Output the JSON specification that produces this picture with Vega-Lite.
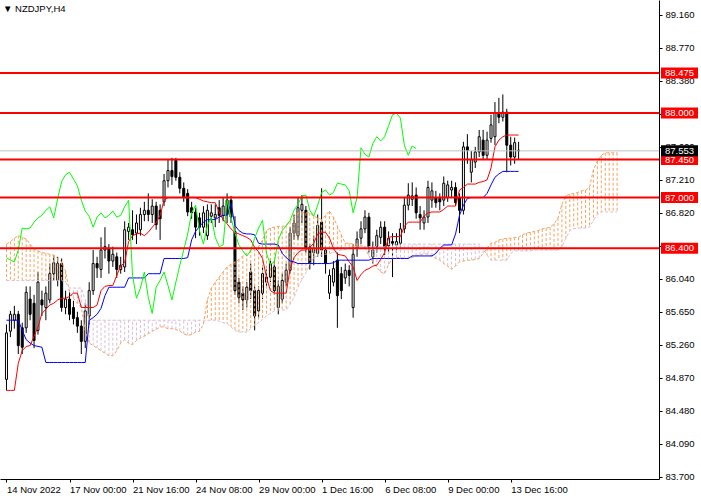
{
  "$schema": "https://vega.github.io/schema/vega-lite/v6.json",
  "width": 659,
  "height": 479,
  "autosize": {"type": "none"},
  "padding": {"left": 0, "top": 0, "right": 42, "bottom": 20},
  "background": "white",
  "title": {
    "text": "▼ NZDJPY,H4",
    "anchor": "start",
    "frame": "group",
    "offset": 0,
    "dy": 13,
    "dx": 3,
    "font": "Liberation Sans",
    "fontSize": 9.5,
    "fontWeight": "normal",
    "color": "black"
  },
  "datasets": {
    "bars": [
      {"i":0,"o":84.85,"h":85.5,"l":84.72,"c":85.4,"t":84.72,"k":85.55,"g":86.29,"a":86.45,"b":86.02},
      {"i":1,"o":85.42,"h":85.66,"l":85.35,"c":85.62,"t":84.72,"k":85.55,"g":86.26,"a":86.48,"b":86.02},
      {"i":2,"o":85.55,"h":85.72,"l":85.45,"c":85.62,"t":84.72,"k":85.55,"g":86.24,"a":86.52,"b":86.02},
      {"i":3,"o":85.62,"h":85.66,"l":85.15,"c":85.25,"t":85.04,"k":85.55,"g":86.38,"a":86.55,"b":86.02},
      {"i":4,"o":85.46,"h":85.52,"l":85.15,"c":85.23,"t":85.19,"k":85.43,"g":86.64,"a":86.53,"b":86.02},
      {"i":5,"o":85.46,"h":85.95,"l":85.4,"c":85.88,"t":85.24,"k":85.32,"g":86.63,"a":86.51,"b":86.02},
      {"i":6,"o":85.8,"h":85.95,"l":85.55,"c":85.62,"t":85.25,"k":85.28,"g":86.64,"a":86.45,"b":86.02},
      {"i":7,"o":85.75,"h":85.85,"l":85.22,"c":85.31,"t":85.36,"k":85.25,"g":86.71,"a":86.39,"b":86.02},
      {"i":8,"o":85.43,"h":86.12,"l":85.38,"c":86.0,"t":85.47,"k":85.24,"g":86.76,"a":86.37,"b":86.02},
      {"i":9,"o":85.79,"h":85.9,"l":85.6,"c":85.73,"t":85.63,"k":85.23,"g":86.79,"a":86.35,"b":86.02},
      {"i":10,"o":85.7,"h":85.95,"l":85.55,"c":85.87,"t":85.68,"k":85.05,"g":86.85,"a":86.34,"b":86.02},
      {"i":11,"o":85.79,"h":86.22,"l":85.75,"c":86.1,"t":85.73,"k":85.05,"g":86.89,"a":86.33,"b":86.02},
      {"i":12,"o":86.1,"h":86.32,"l":86.02,"c":86.23,"t":85.75,"k":85.05,"g":86.76,"a":86.32,"b":86.02},
      {"i":13,"o":86.02,"h":86.3,"l":85.95,"c":86.22,"t":85.79,"k":85.05,"g":86.99,"a":86.28,"b":86.02},
      {"i":14,"o":86.22,"h":86.28,"l":85.65,"c":85.7,"t":85.81,"k":85.05,"g":87.19,"a":86.24,"b":86.02},
      {"i":15,"o":85.7,"h":85.9,"l":85.62,"c":85.8,"t":85.81,"k":85.05,"g":87.27,"a":86.13,"b":86.0},
      {"i":16,"o":85.8,"h":85.88,"l":85.55,"c":85.62,"t":85.83,"k":85.05,"g":87.3,"a":85.88,"b":85.93},
      {"i":17,"o":85.7,"h":85.78,"l":85.5,"c":85.57,"t":85.87,"k":85.05,"g":87.22,"a":85.81,"b":85.93},
      {"i":18,"o":85.58,"h":85.65,"l":85.4,"c":85.48,"t":85.87,"k":85.05,"g":87.14,"a":85.75,"b":85.93},
      {"i":19,"o":85.48,"h":85.55,"l":85.15,"c":85.3,"t":85.7,"k":85.05,"g":86.97,"a":85.7,"b":85.93},
      {"i":20,"o":85.3,"h":85.75,"l":85.22,"c":85.66,"t":85.7,"k":85.05,"g":86.84,"a":85.43,"b":85.79},
      {"i":21,"o":85.6,"h":86.0,"l":85.5,"c":85.9,"t":85.7,"k":85.55,"g":86.78,"a":85.28,"b":85.55},
      {"i":22,"o":85.9,"h":86.38,"l":85.85,"c":86.22,"t":85.7,"k":85.58,"g":86.65,"a":85.25,"b":85.55},
      {"i":23,"o":86.22,"h":86.3,"l":86.05,"c":86.17,"t":85.73,"k":85.62,"g":86.77,"a":85.22,"b":85.55},
      {"i":24,"o":86.15,"h":86.53,"l":86.05,"c":86.38,"t":85.9,"k":85.69,"g":86.82,"a":85.19,"b":85.55},
      {"i":25,"o":86.38,"h":86.65,"l":86.28,"c":86.42,"t":85.95,"k":85.84,"g":86.76,"a":85.16,"b":85.55},
      {"i":26,"o":86.4,"h":86.45,"l":86.1,"c":86.25,"t":85.96,"k":85.94,"g":86.79,"a":85.13,"b":85.55},
      {"i":27,"o":86.25,"h":86.42,"l":86.18,"c":86.33,"t":85.96,"k":85.94,"g":86.84,"a":85.13,"b":85.55},
      {"i":28,"o":86.3,"h":86.35,"l":86.05,"c":86.15,"t":86.08,"k":85.94,"g":86.77,"a":85.19,"b":85.55},
      {"i":29,"o":86.15,"h":86.3,"l":86.1,"c":86.2,"t":86.19,"k":85.94,"g":86.79,"a":85.28,"b":85.55},
      {"i":30,"o":86.18,"h":86.72,"l":86.12,"c":86.62,"t":86.23,"k":85.94,"g":86.89,"a":85.32,"b":85.55},
      {"i":31,"o":86.6,"h":86.7,"l":86.5,"c":86.65,"t":86.48,"k":86.05,"g":86.97,"a":85.28,"b":85.55},
      {"i":32,"o":86.62,"h":86.85,"l":86.5,"c":86.56,"t":86.55,"k":86.05,"g":86.08,"a":85.26,"b":85.55},
      {"i":33,"o":86.58,"h":86.8,"l":86.45,"c":86.7,"t":86.57,"k":86.05,"g":85.81,"a":85.31,"b":85.55},
      {"i":34,"o":86.62,"h":86.88,"l":86.55,"c":86.8,"t":86.58,"k":86.05,"g":85.93,"a":85.34,"b":85.55},
      {"i":35,"o":86.8,"h":86.95,"l":86.72,"c":86.85,"t":86.55,"k":86.05,"g":86.12,"a":85.36,"b":85.55},
      {"i":36,"o":86.85,"h":87.05,"l":86.72,"c":86.8,"t":86.59,"k":86.1,"g":85.82,"a":85.39,"b":85.55},
      {"i":37,"o":86.8,"h":86.98,"l":86.7,"c":86.9,"t":86.65,"k":86.1,"g":85.63,"a":85.42,"b":85.55},
      {"i":38,"o":86.9,"h":86.95,"l":86.62,"c":86.68,"t":86.7,"k":86.1,"g":85.94,"a":85.44,"b":85.55},
      {"i":39,"o":86.85,"h":86.92,"l":86.5,"c":86.75,"t":86.79,"k":86.1,"g":86.02,"a":85.47,"b":85.55},
      {"i":40,"o":86.95,"h":87.28,"l":86.9,"c":87.2,"t":86.97,"k":86.28,"g":86.12,"a":85.47,"b":85.55},
      {"i":41,"o":87.2,"h":87.45,"l":87.12,"c":87.32,"t":87.0,"k":86.28,"g":85.96,"a":85.45,"b":85.55},
      {"i":42,"o":87.32,"h":87.47,"l":87.15,"c":87.25,"t":87.0,"k":86.28,"g":85.79,"a":85.45,"b":85.55},
      {"i":43,"o":87.44,"h":87.47,"l":87.2,"c":87.24,"t":87.0,"k":86.28,"g":86.0,"a":85.44,"b":85.55},
      {"i":44,"o":87.24,"h":87.3,"l":87.05,"c":87.11,"t":87.0,"k":86.28,"g":86.2,"a":85.42,"b":85.55},
      {"i":45,"o":87.11,"h":87.18,"l":86.95,"c":87.01,"t":87.0,"k":86.28,"g":86.38,"a":85.39,"b":85.55},
      {"i":46,"o":87.05,"h":87.1,"l":86.78,"c":86.83,"t":87.0,"k":86.29,"g":86.57,"a":85.37,"b":85.55},
      {"i":47,"o":86.88,"h":86.95,"l":86.75,"c":86.82,"t":87.0,"k":86.5,"g":86.82,"a":85.38,"b":85.55},
      {"i":48,"o":86.83,"h":86.88,"l":86.52,"c":86.65,"t":87.0,"k":86.6,"g":86.91,"a":85.41,"b":85.55},
      {"i":49,"o":86.76,"h":86.82,"l":86.55,"c":86.65,"t":86.98,"k":86.66,"g":86.61,"a":85.42,"b":85.55},
      {"i":50,"o":86.65,"h":86.9,"l":86.58,"c":86.82,"t":86.96,"k":86.71,"g":86.45,"a":85.5,"b":85.55},
      {"i":51,"o":86.55,"h":86.92,"l":86.5,"c":86.85,"t":86.95,"k":86.74,"g":86.67,"a":85.79,"b":85.55},
      {"i":52,"o":86.78,"h":86.92,"l":86.7,"c":86.82,"t":86.94,"k":86.74,"g":86.77,"a":85.93,"b":85.55},
      {"i":53,"o":86.76,"h":86.92,"l":86.65,"c":86.8,"t":86.94,"k":86.74,"g":86.53,"a":86.0,"b":85.55},
      {"i":54,"o":86.88,"h":86.97,"l":86.7,"c":86.79,"t":86.83,"k":86.77,"g":86.42,"a":86.06,"b":85.54},
      {"i":55,"o":86.79,"h":87.0,"l":86.72,"c":86.9,"t":86.74,"k":86.79,"g":86.44,"a":86.12,"b":85.52},
      {"i":56,"o":86.97,"h":87.05,"l":86.7,"c":86.8,"t":86.69,"k":86.79,"g":86.97,"a":86.18,"b":85.51},
      {"i":57,"o":86.97,"h":87.02,"l":86.7,"c":86.77,"t":86.63,"k":86.93,"g":86.76,"a":86.21,"b":85.47},
      {"i":58,"o":86.6,"h":86.78,"l":85.85,"c":85.9,"t":86.59,"k":86.67,"g":86.58,"a":86.24,"b":85.43},
      {"i":59,"o":86.0,"h":86.05,"l":85.75,"c":85.82,"t":86.57,"k":86.61,"g":86.44,"a":86.27,"b":85.41},
      {"i":60,"o":85.87,"h":85.95,"l":85.67,"c":85.79,"t":86.55,"k":86.58,"g":86.37,"a":86.31,"b":85.41},
      {"i":61,"o":85.79,"h":86.0,"l":85.7,"c":85.94,"t":86.53,"k":86.57,"g":86.31,"a":86.34,"b":85.41},
      {"i":62,"o":86.12,"h":86.22,"l":85.8,"c":85.9,"t":86.5,"k":86.57,"g":86.37,"a":86.38,"b":85.45},
      {"i":63,"o":85.9,"h":85.95,"l":85.43,"c":85.6,"t":86.41,"k":86.56,"g":86.52,"a":86.4,"b":85.49},
      {"i":64,"o":85.66,"h":85.95,"l":85.58,"c":85.9,"t":86.36,"k":86.46,"g":86.64,"a":86.42,"b":85.52},
      {"i":65,"o":85.87,"h":86.18,"l":85.8,"c":86.1,"t":86.28,"k":86.45,"g":86.73,"a":86.5,"b":85.56},
      {"i":66,"o":86.0,"h":86.15,"l":85.95,"c":86.06,"t":86.06,"k":86.45,"g":86.34,"a":86.61,"b":85.6},
      {"i":67,"o":86.06,"h":86.28,"l":86.0,"c":86.22,"t":85.9,"k":86.45,"g":86.21,"a":86.64,"b":85.63},
      {"i":68,"o":86.18,"h":86.25,"l":85.85,"c":85.9,"t":85.87,"k":86.45,"g":86.24,"a":86.65,"b":85.66},
      {"i":69,"o":85.7,"h":86.02,"l":85.62,"c":85.95,"t":85.87,"k":86.44,"g":86.5,"a":86.66,"b":85.67},
      {"i":70,"o":85.8,"h":86.1,"l":85.75,"c":86.02,"t":85.87,"k":86.34,"g":86.61,"a":86.66,"b":85.67},
      {"i":71,"o":86.0,"h":86.22,"l":85.95,"c":86.14,"t":85.87,"k":86.29,"g":86.67,"a":86.67,"b":85.67},
      {"i":72,"o":86.14,"h":86.65,"l":86.1,"c":86.58,"t":86.16,"k":86.25,"g":86.73,"a":86.72,"b":85.74},
      {"i":73,"o":86.58,"h":86.8,"l":86.5,"c":86.7,"t":86.29,"k":86.24,"g":86.85,"a":86.77,"b":85.82},
      {"i":74,"o":86.55,"h":87.0,"l":86.5,"c":86.88,"t":86.35,"k":86.22,"g":86.92,"a":86.82,"b":85.94},
      {"i":75,"o":86.85,"h":87.03,"l":86.7,"c":86.92,"t":86.38,"k":86.22,"g":87.02,"a":86.82,"b":86.03},
      {"i":76,"o":86.85,"h":86.9,"l":86.35,"c":86.4,"t":86.38,"k":86.22,"g":87.03,"a":86.82,"b":86.11},
      {"i":77,"o":86.41,"h":86.45,"l":86.15,"c":86.22,"t":86.41,"k":86.22,"g":86.85,"a":86.82,"b":86.21},
      {"i":78,"o":86.35,"h":86.55,"l":86.2,"c":86.4,"t":86.46,"k":86.22,"g":86.78,"a":86.78,"b":86.29},
      {"i":79,"o":86.34,"h":86.8,"l":86.3,"c":86.67,"t":86.57,"k":86.22,"g":86.91,"a":86.76,"b":86.31},
      {"i":80,"o":86.71,"h":87.11,"l":86.3,"c":86.38,"t":86.59,"k":86.22,"g":87.06,"a":86.74,"b":86.32},
      {"i":81,"o":86.38,"h":86.42,"l":86.1,"c":86.22,"t":86.59,"k":86.22,"g":87.09,"a":86.79,"b":86.33},
      {"i":82,"o":85.87,"h":86.15,"l":85.8,"c":86.08,"t":86.52,"k":86.22,"g":87.03,"a":86.84,"b":86.34},
      {"i":83,"o":86.0,"h":86.25,"l":85.95,"c":86.16,"t":86.4,"k":86.23,"g":87.06,"a":86.77,"b":86.35},
      {"i":84,"o":86.26,"h":86.35,"l":85.46,"c":85.84,"t":86.33,"k":86.26,"g":87.17,"a":86.66,"b":86.37},
      {"i":85,"o":86.1,"h":86.18,"l":85.8,"c":85.9,"t":86.32,"k":86.26,"g":87.16,"a":86.56,"b":86.38},
      {"i":86,"o":86.05,"h":86.22,"l":85.98,"c":86.14,"t":86.31,"k":86.26,"g":87.15,"a":86.46,"b":86.39},
      {"i":87,"o":86.14,"h":86.2,"l":85.95,"c":86.08,"t":86.24,"k":86.26,"g":87.08,"a":86.46,"b":86.41},
      {"i":88,"o":85.7,"h":86.45,"l":85.58,"c":86.33,"t":86.18,"k":86.26,"g":86.82,"a":86.45,"b":86.42},
      {"i":89,"o":86.4,"h":86.6,"l":86.3,"c":86.51,"t":86.02,"k":86.26,"g":87.0,"a":86.45,"b":86.42},
      {"i":90,"o":86.52,"h":86.72,"l":86.45,"c":86.63,"t":86.09,"k":86.26,"g":87.59,"a":86.44,"b":86.42},
      {"i":91,"o":86.63,"h":86.85,"l":86.58,"c":86.77,"t":86.14,"k":86.26,"g":87.51,"a":86.41,"b":86.42},
      {"i":92,"o":86.77,"h":86.82,"l":86.35,"c":86.42,"t":86.16,"k":86.26,"g":87.48,"a":86.31,"b":86.42},
      {"i":93,"o":86.3,"h":86.48,"l":86.22,"c":86.38,"t":86.19,"k":86.28,"g":87.64,"a":86.24,"b":86.42},
      {"i":94,"o":86.42,"h":86.62,"l":86.35,"c":86.55,"t":86.2,"k":86.28,"g":87.72,"a":86.18,"b":86.42},
      {"i":95,"o":86.53,"h":86.72,"l":86.45,"c":86.65,"t":86.27,"k":86.28,"g":87.67,"a":86.12,"b":86.42},
      {"i":96,"o":86.65,"h":86.72,"l":86.32,"c":86.42,"t":86.35,"k":86.28,"g":87.72,"a":86.1,"b":86.42},
      {"i":97,"o":86.43,"h":86.6,"l":86.35,"c":86.52,"t":86.53,"k":86.28,"g":87.85,"a":86.21,"b":86.45},
      {"i":98,"o":86.48,"h":86.58,"l":86.06,"c":86.46,"t":86.54,"k":86.28,"g":87.98,"a":86.28,"b":86.45},
      {"i":99,"o":86.44,"h":86.58,"l":86.35,"c":86.48,"t":86.54,"k":86.28,"g":88.0,"a":86.29,"b":86.45},
      {"i":100,"o":86.46,"h":86.7,"l":86.4,"c":86.63,"t":86.54,"k":86.28,"g":87.94,"a":86.29,"b":86.45},
      {"i":101,"o":86.63,"h":87.0,"l":86.58,"c":86.91,"t":86.66,"k":86.28,"g":87.62,"a":86.28,"b":86.45},
      {"i":102,"o":86.91,"h":87.17,"l":86.85,"c":87.03,"t":86.71,"k":86.28,"g":87.5,"a":86.28,"b":86.45},
      {"i":103,"o":86.98,"h":87.18,"l":86.9,"c":87.02,"t":86.71,"k":86.31,"g":87.61,"a":86.29,"b":86.45},
      {"i":104,"o":87.03,"h":87.12,"l":86.75,"c":86.82,"t":86.71,"k":86.31,"g":87.58,"a":86.31,"b":86.45},
      {"i":105,"o":86.8,"h":86.9,"l":86.62,"c":86.76,"t":86.71,"k":86.31,"a":86.32,"b":86.45},
      {"i":106,"o":86.7,"h":86.85,"l":86.62,"c":86.77,"t":86.78,"k":86.31,"a":86.34,"b":86.45},
      {"i":107,"o":86.77,"h":87.2,"l":86.7,"c":87.12,"t":86.82,"k":86.31,"a":86.33,"b":86.45},
      {"i":108,"o":86.97,"h":87.18,"l":86.88,"c":87.08,"t":86.83,"k":86.31,"a":86.31,"b":86.45},
      {"i":109,"o":87.0,"h":87.08,"l":86.88,"c":86.94,"t":86.83,"k":86.34,"a":86.28,"b":86.45},
      {"i":110,"o":86.99,"h":87.05,"l":86.85,"c":86.95,"t":86.83,"k":86.4,"a":86.26,"b":86.45},
      {"i":111,"o":86.97,"h":87.25,"l":86.9,"c":87.17,"t":86.86,"k":86.44,"a":86.22,"b":86.45},
      {"i":112,"o":87.0,"h":87.2,"l":86.95,"c":87.15,"t":86.9,"k":86.44,"a":86.19,"b":86.45},
      {"i":113,"o":87.09,"h":87.2,"l":87.0,"c":87.12,"t":86.9,"k":86.44,"a":86.15,"b":86.45},
      {"i":114,"o":87.12,"h":87.18,"l":86.9,"c":86.94,"t":86.9,"k":86.57,"a":86.19,"b":86.45},
      {"i":115,"o":87.0,"h":87.05,"l":86.58,"c":86.85,"t":87.09,"k":86.79,"a":86.24,"b":86.45},
      {"i":116,"o":86.85,"h":87.66,"l":86.8,"c":87.6,"t":87.12,"k":86.91,"a":86.25,"b":86.45},
      {"i":117,"o":87.6,"h":87.75,"l":87.4,"c":87.56,"t":87.16,"k":86.99,"a":86.26,"b":86.45},
      {"i":118,"o":87.3,"h":87.55,"l":87.18,"c":87.45,"t":87.16,"k":87.0,"a":86.26,"b":86.45},
      {"i":119,"o":87.42,"h":87.6,"l":87.35,"c":87.54,"t":87.16,"k":87.0,"a":86.27,"b":86.45},
      {"i":120,"o":87.54,"h":87.8,"l":87.48,"c":87.72,"t":87.18,"k":87.0,"a":86.28,"b":86.45},
      {"i":121,"o":87.68,"h":87.8,"l":87.45,"c":87.5,"t":87.19,"k":87.0,"a":86.34,"b":86.4},
      {"i":122,"o":87.5,"h":87.78,"l":87.45,"c":87.68,"t":87.21,"k":87.05,"a":86.4,"b":86.32},
      {"i":123,"o":87.7,"h":87.98,"l":87.65,"c":87.86,"t":87.35,"k":87.15,"a":86.46,"b":86.26},
      {"i":124,"o":87.72,"h":88.13,"l":87.62,"c":88.0,"t":87.6,"k":87.24,"a":86.47,"b":86.26},
      {"i":125,"o":88.0,"h":88.18,"l":87.88,"c":87.95,"t":87.68,"k":87.28,"a":86.5,"b":86.26},
      {"i":126,"o":87.95,"h":88.22,"l":87.9,"c":88.01,"t":87.72,"k":87.31,"a":86.51,"b":86.26},
      {"i":127,"o":88.01,"h":88.05,"l":87.3,"c":87.62,"t":87.74,"k":87.31,"a":86.52,"b":86.26},
      {"i":128,"o":87.62,"h":87.72,"l":87.38,"c":87.48,"t":87.74,"k":87.31,"a":86.52,"b":86.34},
      {"i":129,"o":87.48,"h":87.71,"l":87.4,"c":87.65,"t":87.74,"k":87.31,"a":86.53,"b":86.37},
      {"i":130,"o":87.56,"h":87.66,"l":87.45,"c":87.553,"t":87.74,"k":87.31,"a":86.53,"b":86.37},
      {"i":131,"a":86.56,"b":86.37},
      {"i":132,"a":86.58,"b":86.37},
      {"i":133,"a":86.59,"b":86.37},
      {"i":134,"a":86.6,"b":86.38},
      {"i":135,"a":86.61,"b":86.38},
      {"i":136,"a":86.63,"b":86.38},
      {"i":137,"a":86.64,"b":86.38},
      {"i":138,"a":86.65,"b":86.38},
      {"i":139,"a":86.69,"b":86.38},
      {"i":140,"a":86.76,"b":86.38},
      {"i":141,"a":86.92,"b":86.42},
      {"i":142,"a":87.02,"b":86.52},
      {"i":143,"a":87.04,"b":86.61},
      {"i":144,"a":87.05,"b":86.63},
      {"i":145,"a":87.06,"b":86.64},
      {"i":146,"a":87.08,"b":86.64},
      {"i":147,"a":87.09,"b":86.64},
      {"i":148,"a":87.12,"b":86.65},
      {"i":149,"a":87.33,"b":86.73},
      {"i":150,"a":87.43,"b":86.8},
      {"i":151,"a":87.5,"b":86.83},
      {"i":152,"a":87.53,"b":86.83},
      {"i":153,"a":87.53,"b":86.83},
      {"i":154,"a":87.53,"b":86.83},
      {"i":155,"a":87.53,"b":86.83}
    ],
    "levels": [
      {"p": 88.475},
      {"p": 88.0},
      {"p": 87.45},
      {"p": 87.0},
      {"p": 86.4}
    ],
    "bid": [
      {"p": 87.553}
    ]
  },
  "config": {
    "view": {"stroke": null},
    "axis": {
      "grid": false,
      "labelFont": "Liberation Sans",
      "labelFontSize": 9.5,
      "labelColor": "black",
      "domainColor": "black",
      "tickColor": "black",
      "tickSize": 3,
      "labelOverlap": false,
      "labelFlush": false
    }
  },
  "layer": [
    {
      "data": {"name": "bars"},
      "encoding": {
        "x": {
          "field": "i",
          "type": "quantitative",
          "title": null,
          "scale": {"domain": [-0.375, 164.375], "nice": false, "zero": false},
          "axis": {
            "values": [0, 16, 32, 48, 64, 80, 96, 112, 128],
            "tickCount": 20,
            "labelExpr": "['14 Nov 2022','17 Nov 00:00','21 Nov 16:00','24 Nov 08:00','29 Nov 00:00','1 Dec 16:00','6 Dec 08:00','9 Dec 00:00','13 Dec 16:00'][round(datum.value / 16)]",
            "labelAlign": "left",
            "labelBaseline": "top",
            "labelPadding": 2,
            "labelOverlap": false
          }
        }
      },
      "layer": [
        {
          "mark": {"type": "rule", "color": "black", "strokeWidth": 1},
          "encoding": {
            "y": {
              "field": "l",
              "type": "quantitative",
              "title": null,
              "scale": {"domain": [83.672, 89.337], "nice": false, "zero": false},
              "axis": {
                "orient": "right",
                "values": [83.7, 84.09, 84.48, 84.87, 85.26, 85.65, 86.04, 86.43, 86.82, 87.21, 87.6, 87.99, 88.38, 88.77, 89.16],
                "tickCount": 30,
                "format": ".3f",
                "labelAlign": "left",
                "labelBaseline": "middle",
                "labelPadding": 3,
                "labelOverlap": false,
                "labelSeparation": 0
              }
            },
            "y2": {"field": "h"}
          }
        },
        {
          "mark": {"type": "bar", "width": 2, "stroke": "black", "strokeWidth": 1},
          "encoding": {
            "y": {"field": "o", "type": "quantitative", "title": null, "scale": {"domain": [83.672, 89.337], "nice": false, "zero": false}},
            "y2": {"field": "c"},
            "fill": {"condition": {"test": "datum.c >= datum.o", "value": "white"}, "value": "black"}
          }
        },
        {
          "mark": {"type": "rule", "strokeWidth": 1, "strokeDash": [3, 2]},
          "encoding": {
            "y": {"field": "a", "type": "quantitative", "title": null, "scale": {"domain": [83.672, 89.337], "nice": false, "zero": false}},
            "y2": {"field": "b"},
            "color": {"condition": {"test": "datum.a >= datum.b", "value": "#F4A460"}, "value": "#D8BFD8"}
          }
        },
        {
          "mark": {"type": "line", "color": "#F4A460", "strokeWidth": 1, "strokeDash": [3, 2]},
          "encoding": {
            "y": {"field": "a", "type": "quantitative", "title": null, "scale": {"domain": [83.672, 89.337], "nice": false, "zero": false}}
          }
        },
        {
          "mark": {"type": "line", "color": "#D8BFD8", "strokeWidth": 1, "strokeDash": [3, 2]},
          "encoding": {
            "y": {"field": "b", "type": "quantitative", "title": null, "scale": {"domain": [83.672, 89.337], "nice": false, "zero": false}}
          }
        },
        {
          "mark": {"type": "line", "color": "#FF0000", "strokeWidth": 1},
          "encoding": {
            "y": {"field": "t", "type": "quantitative", "title": null, "scale": {"domain": [83.672, 89.337], "nice": false, "zero": false}}
          }
        },
        {
          "mark": {"type": "line", "color": "#0000FF", "strokeWidth": 1},
          "encoding": {
            "y": {"field": "k", "type": "quantitative", "title": null, "scale": {"domain": [83.672, 89.337], "nice": false, "zero": false}}
          }
        },
        {
          "mark": {"type": "line", "color": "#00FF00", "strokeWidth": 1},
          "encoding": {
            "y": {"field": "g", "type": "quantitative", "title": null, "scale": {"domain": [83.672, 89.337], "nice": false, "zero": false}}
          }
        }
      ]
    },
    {
      "data": {"name": "bid"},
      "mark": {"type": "rule", "color": "#C0C0C0", "strokeWidth": 1},
      "encoding": {
        "y": {"field": "p", "type": "quantitative", "title": null, "scale": {"domain": [83.672, 89.337], "nice": false, "zero": false}}
      }
    },
    {
      "data": {"name": "levels"},
      "mark": {"type": "rule", "color": "#FF0000", "strokeWidth": 2},
      "encoding": {
        "y": {"field": "p", "type": "quantitative", "title": null, "scale": {"domain": [83.672, 89.337], "nice": false, "zero": false}}
      }
    },
    {
      "data": {"name": "levels"},
      "mark": {"type": "rule", "color": "#FF0000", "strokeWidth": 11, "strokeCap": "butt", "xOffset": 2, "x2Offset": 39},
      "encoding": {
        "x": {"value": "width"},
        "x2": {"value": "width"},
        "y": {"field": "p", "type": "quantitative", "title": null, "scale": {"domain": [83.672, 89.337], "nice": false, "zero": false}}
      }
    },
    {
      "data": {"name": "levels"},
      "mark": {"type": "text", "align": "left", "baseline": "middle", "color": "white", "font": "Liberation Sans", "fontSize": 9.5, "xOffset": 6},
      "encoding": {
        "x": {"value": "width"},
        "y": {"field": "p", "type": "quantitative", "title": null, "scale": {"domain": [83.672, 89.337], "nice": false, "zero": false}},
        "text": {"field": "p", "type": "quantitative", "format": ".3f"}
      }
    },
    {
      "data": {"name": "bid"},
      "mark": {"type": "rule", "color": "black", "strokeWidth": 11, "strokeCap": "butt", "xOffset": 2, "x2Offset": 39},
      "encoding": {
        "x": {"value": "width"},
        "x2": {"value": "width"},
        "y": {"field": "p", "type": "quantitative", "title": null, "scale": {"domain": [83.672, 89.337], "nice": false, "zero": false}}
      }
    },
    {
      "data": {"name": "bid"},
      "mark": {"type": "text", "align": "left", "baseline": "middle", "color": "white", "font": "Liberation Sans", "fontSize": 9.5, "xOffset": 6},
      "encoding": {
        "x": {"value": "width"},
        "y": {"field": "p", "type": "quantitative", "title": null, "scale": {"domain": [83.672, 89.337], "nice": false, "zero": false}},
        "text": {"field": "p", "type": "quantitative", "format": ".3f"}
      }
    }
  ]
}
